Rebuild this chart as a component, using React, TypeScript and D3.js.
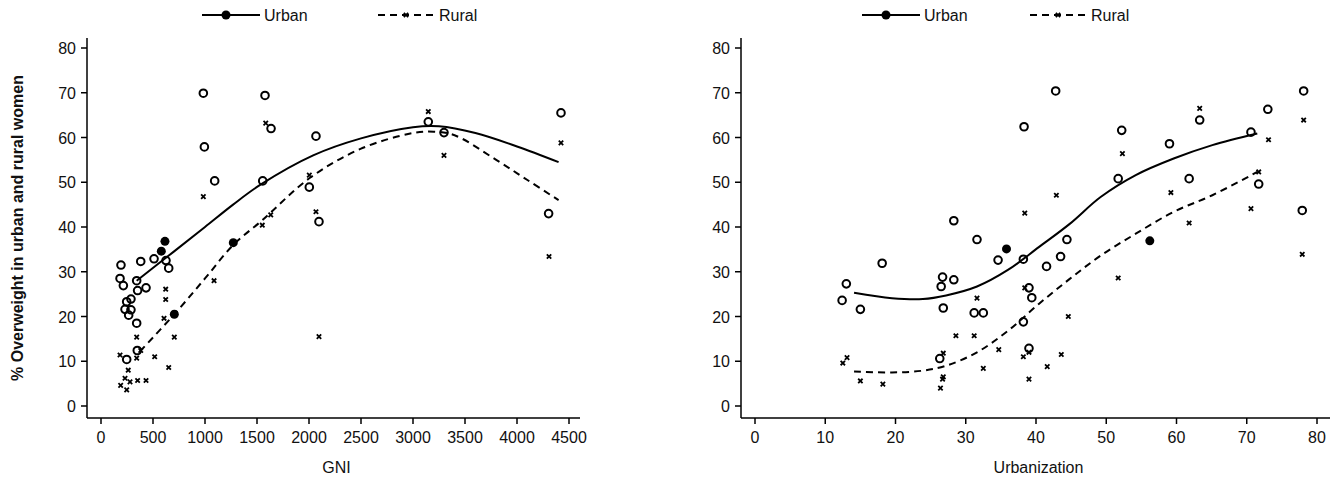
import React from "react";
import * as d3 from "d3";

const gniUrban: [number, number][] = [[192,31.5],[183,28.5],[215,26.9],[247,23.3],[231,21.6],[288,23.9],[288,21.5],[266,20.3],[247,10.4],[343,18.5],[349,12.4],[343,28],[352,25.8],[382,32.3],[433,26.4],[510,32.9],[625,32.5],[651,30.8],[984,69.9],[994,57.9],[1093,50.3],[1555,50.3],[1577,69.4],[1635,62],[2067,60.3],[2003,48.9],[2096,41.2],[3147,63.5],[3298,61.1],[4304,43],[4423,65.5]];
const gniUrbanFilled: [number, number][] = [[580,34.6],[615,36.8],[1272,36.5],[705,20.5]];
const gniRural: [number, number][] = [[183,11.4],[189,4.6],[231,6.2],[247,3.6],[262,8],[279,5.4],[343,15.4],[343,10.7],[382,12.4],[352,5.7],[433,5.7],[516,11],[622,26.1],[622,23.8],[606,19.6],[651,8.6],[705,15.4],[1087,28],[984,46.8],[1551,40.4],[1632,42.7],[1584,63.2],[2003,51.6],[2067,43.4],[2096,15.5],[3147,65.8],[3298,56],[4308,33.4],[4423,58.8]];
const gniUrbanFit: [number, number][] = [[343,28],[700,34.5],[1000,40],[1270,45],[1530,49.4],[2040,56],[2500,59.8],[3000,62.3],[3250,62.5],[3600,61],[4000,58],[4400,54.5]];
const gniRuralFit: [number, number][] = [[375,12.2],[705,20.5],[1000,28.5],[1272,36],[1550,41.5],[2010,51],[2500,57.5],[3000,61],[3200,61.3],[3400,60.5],[3800,55],[4100,50.5],[4400,46]];

const urbUrban: [number, number][] = [[12.4,23.6],[13,27.3],[15,21.6],[18.1,31.9],[26.5,26.7],[26.7,28.8],[26.8,21.9],[26.3,10.6],[28.3,28.2],[28.3,41.4],[31.6,37.2],[31.2,20.8],[32.5,20.8],[34.6,32.6],[38.2,32.8],[38.3,62.4],[39,26.4],[39.4,24.2],[39,12.9],[38.2,18.8],[41.5,31.2],[42.8,70.4],[43.5,33.4],[44.4,37.2],[51.7,50.8],[52.2,61.6],[59,58.6],[61.8,50.8],[63.3,63.9],[70.6,61.2],[71.7,49.6],[73,66.3],[78.1,70.4],[77.9,43.7]];
const urbUrbanFilled: [number, number][] = [[35.8,35.1],[56.2,36.9]];
const urbRural: [number, number][] = [[12.5,9.6],[13.1,10.8],[15,5.6],[18.2,4.9],[26.4,4],[26.7,6],[26.8,6.5],[26.8,11.8],[28.6,15.7],[31.6,24.1],[31.2,15.7],[32.5,8.4],[34.7,12.6],[38.2,11],[38.4,26.4],[38.4,43.1],[39,6],[39,12],[41.6,8.8],[42.9,47.1],[43.6,11.5],[44.6,20],[51.7,28.6],[52.3,56.4],[59.2,47.7],[61.8,40.9],[63.3,66.5],[70.6,44.1],[71.7,52.3],[73.1,59.5],[78.1,63.9],[77.9,33.9]];
const urbUrbanFit: [number, number][] = [[14.1,25.3],[19.5,24.1],[23.9,23.9],[27.2,24.7],[31.6,26.7],[36,30.4],[40.4,35.5],[44.8,40.7],[49.2,46.7],[54.2,51.6],[59.6,55.3],[65.1,58.3],[71.5,60.9]];
const urbRuralFit: [number, number][] = [[14.1,7.7],[19.5,7.5],[23.9,7.9],[27.2,9],[31.6,12],[36,16.8],[40.4,22.8],[44.8,28.4],[49.2,33.6],[54.2,38.5],[59.6,43.4],[65.1,47.1],[71.5,52.3]];

const gniTicks = d3.range(0, 4501, 500);
const urbTicks = d3.range(0, 81, 10);
const yTicks = d3.range(0, 81, 10);
const font = "Liberation Sans, Arial, sans-serif";

function XMark({ x, y }: { x: number; y: number }) {
  const s = 2.2;
  return <path d={`M${x - s},${y - s}L${x + s},${y + s}M${x - s},${y + s}L${x + s},${y - s}`} stroke="#000" strokeWidth={1.8} />;
}

function Panel(props: {
  x0: number; x1: number; domain: [number, number]; xzero: number; xend: number; ticks: number[];
  urban: [number, number][]; filled: [number, number][]; rural: [number, number][];
  uFit: [number, number][]; rFit: [number, number][]; xlabel: string; legX: number; legX2: number; ylab?: boolean;
}) {
  const x = d3.scaleLinear().domain(props.domain).range([props.xzero, props.xend]);
  const y = d3.scaleLinear().domain([0, 80]).range([406, 48]);
  const line = d3.line<[number, number]>().x(d => x(d[0])).y(d => y(d[1])).curve(d3.curveCatmullRom);
  return (
    <g fontFamily={font} fill="#111">
      <line x1={props.x0} x2={props.x0} y1={38} y2={418} stroke="#000" strokeWidth={1.5} />
      <line x1={props.x0} x2={props.x1} y1={418} y2={418} stroke="#000" strokeWidth={1.5} />
      {yTicks.map(t => (
        <g key={t}>
          <line x1={props.x0 - 6} x2={props.x0} y1={y(t)} y2={y(t)} stroke="#000" strokeWidth={1.5} />
          <text x={props.x0 - 11} y={y(t) + 6} textAnchor="end" fontSize={16}>{t}</text>
        </g>
      ))}
      {props.ticks.map(t => (
        <g key={t}>
          <line x1={x(t)} x2={x(t)} y1={418} y2={424} stroke="#000" strokeWidth={1.5} />
          <text x={x(t)} y={443} textAnchor="middle" fontSize={16}>{t}</text>
        </g>
      ))}
      <text x={(props.x0 + props.x1) / 2 + 3} y={473} textAnchor="middle" fontSize={16}>{props.xlabel}</text>
      {props.ylab && (
        <text transform="translate(23,228) rotate(-90)" textAnchor="middle" fontSize={16} fontWeight="bold">% Overweight in urban and rural women</text>
      )}
      <path d={line(props.uFit) || ""} fill="none" stroke="#000" strokeWidth={2} />
      <path d={line(props.rFit) || ""} fill="none" stroke="#000" strokeWidth={2} strokeDasharray="7,5" />
      {props.urban.map((d, i) => <circle key={i} cx={x(d[0])} cy={y(d[1])} r={3.8} fill="none" stroke="#000" strokeWidth={2} />)}
      {props.filled.map((d, i) => <circle key={i} cx={x(d[0])} cy={y(d[1])} r={4.5} fill="#000" />)}
      {props.rural.map((d, i) => <XMark key={i} x={x(d[0])} y={y(d[1])} />)}
      <line x1={props.legX} x2={props.legX + 58} y1={15} y2={15} stroke="#000" strokeWidth={2} />
      <circle cx={props.legX + 24} cy={15} r={4.5} fill="#000" />
      <text x={props.legX + 62} y={21} fontSize={16}>Urban</text>
      <line x1={props.legX2} x2={props.legX2 + 58} y1={15} y2={15} stroke="#000" strokeWidth={2} strokeDasharray="7,5" />
      <XMark x={props.legX2 + 28} y={15} />
      <text x={props.legX2 + 61} y={21} fontSize={16}>Rural</text>
    </g>
  );
}

export default function App() {
  return (
    <svg width={1337} height={478} style={{ display: "block", position: "absolute", left: 0, top: 0, background: "#fff" }}>
      <Panel x0={87} x1={580} domain={[0, 4500]} xzero={101} xend={569} ticks={gniTicks}
        urban={gniUrban} filled={gniUrbanFilled} rural={gniRural} uFit={gniUrbanFit} rFit={gniRuralFit}
        xlabel="GNI" legX={202} legX2={378} ylab />
      <Panel x0={741} x1={1330} domain={[0, 80]} xzero={755} xend={1317} ticks={urbTicks}
        urban={urbUrban} filled={urbUrbanFilled} rural={urbRural} uFit={urbUrbanFit} rFit={urbRuralFit}
        xlabel="Urbanization" legX={862} legX2={1030} />
    </svg>
  );
}
